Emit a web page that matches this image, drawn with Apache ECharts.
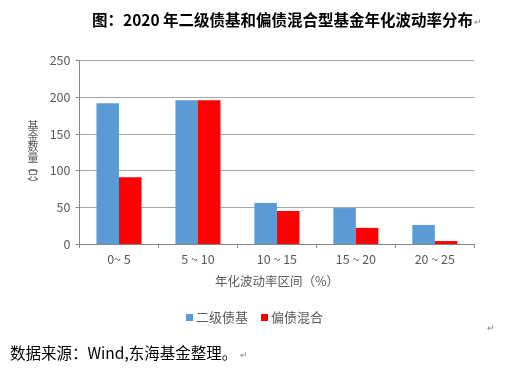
<!DOCTYPE html>
<html><head><meta charset="utf-8">
<script src="https://cdn.jsdelivr.net/npm/echarts@6/dist/echarts.min.js"></script>
<style>html,body{margin:0;padding:0;background:#fff}#c{width:524px;height:375px}</style>
</head><body><div id="c"></div>
<script>
const categories = ['0~ 5', '5 ~ 10', '10 ~ 15', '15 ~ 20', '20 ~ 25'];
const seriesNames = ['二级债基', '偏债混合'];
const erjiZhaiji = [192, 196, 56, 49, 26];
const pianzhaiHunhe = [91, 196, 45, 22, 4];
const yTicks = {min: 0, max: 250, interval: 50};
const yAxisNameChars = ['基', '金', '数', '量', '︵', '只', '︶'];

const font = '"Noto Sans CJK SC", "Noto Sans", sans-serif';
const yNameTops = [126, 136.5, 147, 157.5, 166.5, 174.5, 184];
const yNameGraphics = yAxisNameChars.map((ch, i) => ({
  type: 'text', x: 33, y: yNameTops[i],
  style: {text: ch, font: '11px ' + font, fill: '#595959', align: 'center', verticalAlign: 'middle'}
}));

const chart = echarts.init(document.getElementById('c'), null, {renderer: 'canvas'});
chart.setOption({
  animation: false,
  backgroundColor: '#fff',
  textStyle: {fontFamily: font},
  graphic: [
    {type: 'text', left: 92, top: 12, style: {text: '图：2020 年二级债基和偏债混合型基金年化波动率分布', font: 'bold 15.5px ' + font, fill: '#000'}},
    {type: 'text', left: 474, top: 17, style: {text: '↵', font: '9px ' + font, fill: '#888'}},
    {type: 'text', left: 487, top: 323, style: {text: '↵', font: '9px ' + font, fill: '#888'}},
    {type: 'text', left: 10, top: 345, style: {text: '数据来源：Wind,东海基金整理。', font: '15.5px ' + font, fill: '#000'}},
    {type: 'text', left: 240, top: 350, style: {text: '↵', font: '9px ' + font, fill: '#888'}}
  ].concat(yNameGraphics),
  legend: {
    data: seriesNames,
    top: 306, left: 181, itemWidth: 7, itemHeight: 7, itemGap: 13,
    icon: 'rect',
    textStyle: {fontSize: 13, color: '#595959', fontFamily: font, padding: [0, 0, 0, -2]}
  },
  grid: {left: 79.5, right: 49.7, top: 60.6, bottom: 131},
  xAxis: {
    type: 'category', data: categories,
    name: '年化波动率区间（%）', nameLocation: 'middle', nameGap: 31,
    nameTextStyle: {fontSize: 12.5, color: '#595959'},
    axisLine: {lineStyle: {color: '#868686'}},
    axisTick: {show: true, length: 4, lineStyle: {color: '#868686'}},
    axisLabel: {fontSize: 12.5, color: '#595959', margin: 9}
  },
  yAxis: {
    type: 'value', min: yTicks.min, max: yTicks.max, interval: yTicks.interval,
    axisLine: {show: true, lineStyle: {color: '#868686'}},
    axisTick: {show: true, length: 4, lineStyle: {color: '#868686'}},
    axisLabel: {fontSize: 12.5, color: '#595959', margin: 9},
    splitLine: {lineStyle: {color: '#A6A6A6'}}
  },
  series: [
    {name: seriesNames[0], type: 'bar', data: erjiZhaiji, barWidth: '28.5%', barGap: '0%', itemStyle: {color: '#5B9BD5'}},
    {name: seriesNames[1], type: 'bar', data: pianzhaiHunhe, barWidth: '28.5%', barGap: '0%', itemStyle: {color: '#FF0000'}}
  ]
});
</script></body></html>
